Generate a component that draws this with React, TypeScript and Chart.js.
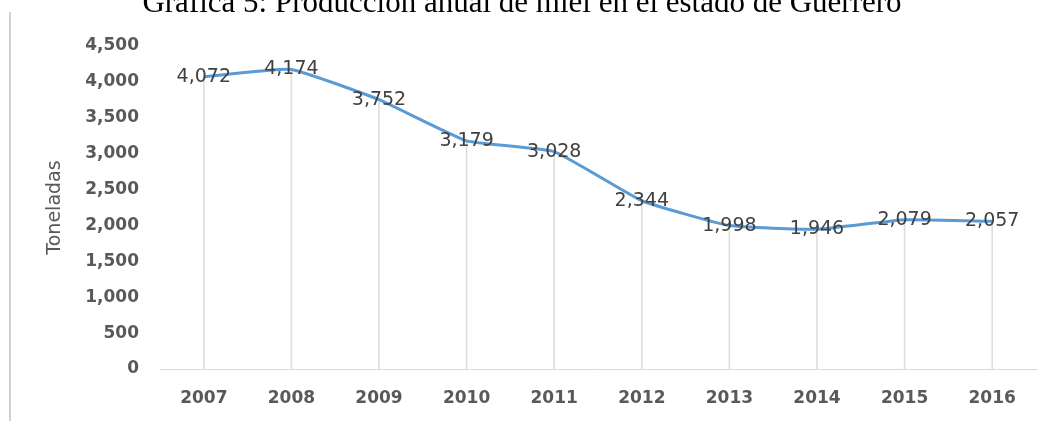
import React, { useEffect, useRef } from "react";
import { Chart, registerables } from "chart.js";

Chart.register(...registerables);

const TITLE = "Gráfica 5: Producción anual de miel en el estado de Guerrero";
const Y_TITLE = "Toneladas";
const YEARS = ["2007", "2008", "2009", "2010", "2011", "2012", "2013", "2014", "2015", "2016"];
const TONELADAS = [4072, 4174, 3752, 3179, 3028, 2344, 1998, 1946, 2079, 2057];
const Y_MAX = 4500;
const Y_STEP = 500;

const fmt = (v: number) => v.toLocaleString("en-US");

const decorPlugin = {
  id: "decor",
  beforeDraw(chart: any) {
    const ctx = chart.ctx;
    ctx.save();
    ctx.fillStyle = "#ffffff";
    ctx.fillRect(0, 0, chart.width, chart.height);
    ctx.fillStyle = "#000000";
    ctx.font = '31px "Liberation Serif", "Times New Roman", serif';
    ctx.textAlign = "center";
    ctx.textBaseline = "alphabetic";
    ctx.fillText(TITLE, 522, 12);
    ctx.strokeStyle = "#d0d0d0";
    ctx.lineWidth = 2;
    ctx.beginPath();
    ctx.moveTo(10, 12);
    ctx.lineTo(10, chart.height);
    ctx.stroke();
    ctx.restore();
  },
  afterDatasetsDraw(chart: any) {
    const ctx = chart.ctx;
    const meta = chart.getDatasetMeta(0);
    ctx.save();
    ctx.font = '19px "DejaVu Sans", sans-serif';
    ctx.fillStyle = "#404040";
    ctx.textAlign = "center";
    ctx.textBaseline = "middle";
    meta.data.forEach((pt: any, i: number) => {
      ctx.fillText(fmt(TONELADAS[i]), pt.x, pt.y);
    });
    ctx.restore();
  },
};

export default function App() {
  const ref = useRef<HTMLCanvasElement | null>(null);
  useEffect(() => {
    if (!ref.current) return;
    const chart = new Chart(ref.current, {
      type: "bar",
      data: {
        labels: YEARS,
        datasets: [
          {
            type: "line",
            label: Y_TITLE,
            data: TONELADAS,
            borderColor: "#5b9bd5",
            backgroundColor: "#5b9bd5",
            borderWidth: 3,
            pointRadius: 0,
            tension: 0.12,
            order: 0,
          } as any,
          {
            type: "bar",
            label: "drop",
            data: TONELADAS,
            backgroundColor: "#dedede",
            barThickness: 1,
            order: 1,
          },
        ],
      },
      options: {
        animation: false,
        responsive: false,
        maintainAspectRatio: false,
        layout: { padding: { top: 46, right: 8, bottom: 0, left: 0 } },
        plugins: {
          legend: { display: false },
          tooltip: { enabled: false },
          title: { display: false },
        },
        scales: {
          x: {
            offset: true,
            grid: { display: false, drawTicks: false },
            border: { display: true, color: "#d9d9d9", width: 1 },
            ticks: {
              color: "#595959",
              font: { family: "DejaVu Sans", size: 17, weight: "bold" },
              padding: 19,
              maxRotation: 0,
            },
            afterFit: (s: any) => {
              s.height = 52;
            },
          },
          y: {
            min: 0,
            max: Y_MAX,
            grid: { display: false, drawTicks: false },
            border: { display: false },
            ticks: {
              stepSize: Y_STEP,
              color: "#595959",
              font: { family: "DejaVu Sans", size: 17, weight: "bold" },
              padding: 21,
              callback: (v: any) => fmt(Number(v)),
            },
            title: {
              display: true,
              text: Y_TITLE,
              color: "#595959",
              font: { family: "DejaVu Sans", size: 19, weight: "normal" },
              padding: { top: 44, bottom: 0 },
            },
            afterFit: (s: any) => {
              s.width = 160;
            },
          },
        },
      },
      plugins: [decorPlugin],
    });
    return () => chart.destroy();
  }, []);
  return (
    <div style={{ position: "fixed", left: 0, top: 0, width: 1044, height: 421 }}>
      <canvas ref={ref} width={1044} height={421} style={{ width: 1044, height: 421 }} />
    </div>
  );
}
